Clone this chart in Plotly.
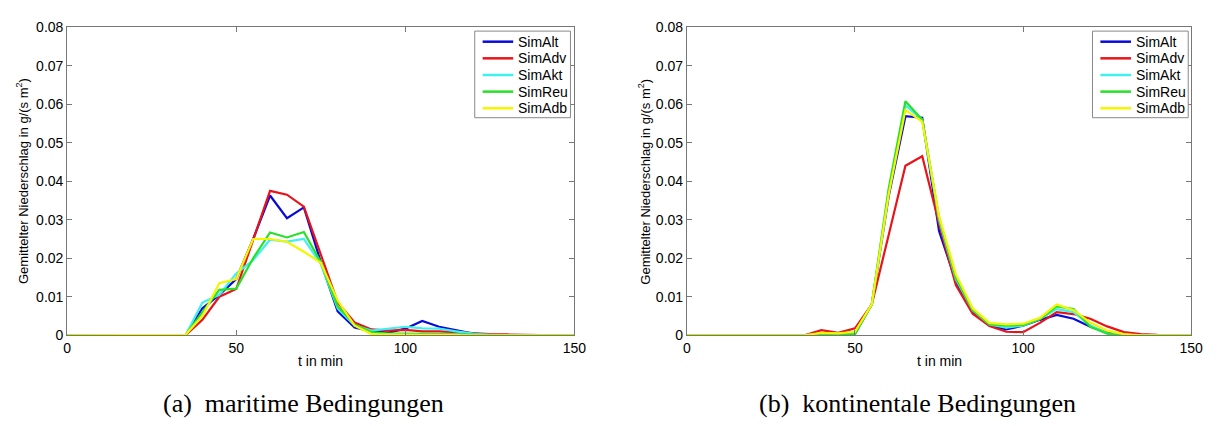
import plotly.graph_objects as go

t = [0, 5, 10, 15, 20, 25, 30, 35, 40, 45, 50, 55, 60, 65, 70, 75, 80, 85, 90, 95,
     100, 105, 110, 115, 120, 125, 130, 135, 140, 145, 150]

series_names = ["SimAlt", "SimAdv", "SimAkt", "SimReu", "SimAdb"]
colors = ["#0a0ad8", "#e8141a", "#3ff0f0", "#28e028", "#f5f500"]

# (a) maritime Bedingungen
mar_alt = [0, 0, 0, 0, 0, 0, 0, 0, 0.0070, 0.0105, 0.0146, 0.0250, 0.0363, 0.0304, 0.0332, 0.0190,
           0.0062, 0.0020, 0.0010, 0.0007, 0.0017, 0.0037, 0.0022, 0.0012, 0.0004, 0.0001, 0, 0, 0, 0, 0]
mar_adv = [0, 0, 0, 0, 0, 0, 0, 0, 0.0040, 0.0100, 0.0120, 0.0250, 0.0375, 0.0365, 0.0334, 0.0210,
           0.0085, 0.0033, 0.0015, 0.0012, 0.0014, 0.0010, 0.0010, 0.0008, 0.0005, 0.0003, 0.0002, 0.0001, 0, 0, 0]
mar_akt = [0, 0, 0, 0, 0, 0, 0, 0, 0.0085, 0.0105, 0.0160, 0.0195, 0.0248, 0.0243, 0.0250, 0.0185,
           0.0070, 0.0025, 0.0012, 0.0017, 0.0022, 0.0018, 0.0017, 0.0010, 0.0004, 0.0001, 0, 0, 0, 0, 0]
mar_reu = [0, 0, 0, 0, 0, 0, 0, 0, 0.0060, 0.0118, 0.0121, 0.0200, 0.0267, 0.0254, 0.0268, 0.0190,
           0.0075, 0.0028, 0.0008, 0.0004, 0.0004, 0.0004, 0.0003, 0.0002, 0.0001, 0, 0, 0, 0, 0, 0]
mar_adb = [0, 0, 0, 0, 0, 0.0001, 0.0001, 0.0001, 0.0050, 0.0135, 0.0146, 0.0250, 0.0250, 0.0243, 0.0217, 0.0188,
           0.0090, 0.0025, 0.0003, 0.0002, 0.0002, 0.0001, 0.0001, 0, 0, 0, 0, 0, 0, 0, 0]

# (b) kontinentale Bedingungen
kon_alt = [0, 0, 0, 0, 0, 0, 0, 0, 0.0003, 0.0003, 0.0004, 0.0080, 0.0360, 0.0569, 0.0565, 0.0271,
           0.0140, 0.0060, 0.0025, 0.0015, 0.0025, 0.0040, 0.0053, 0.0043, 0.0022, 0.0007, 0.0001, 0, 0, 0, 0]
kon_adv = [0, 0, 0, 0, 0, 0, 0, 0, 0.0013, 0.0006, 0.0018, 0.0080, 0.0260, 0.0440, 0.0465, 0.0290,
           0.0130, 0.0056, 0.0024, 0.0009, 0.0008, 0.0032, 0.0060, 0.0055, 0.0043, 0.0023, 0.0008, 0.0003, 0.0001, 0, 0]
kon_akt = [0, 0, 0, 0, 0, 0, 0, 0, 0.0004, 0.0004, 0.0006, 0.0080, 0.0370, 0.0597, 0.0560, 0.0300,
           0.0145, 0.0065, 0.0028, 0.0020, 0.0025, 0.0042, 0.0068, 0.0060, 0.0025, 0.0005, 0.0001, 0, 0, 0, 0]
kon_reu = [0, 0, 0, 0, 0, 0, 0, 0, 0.0002, 0.0003, 0.0003, 0.0080, 0.0380, 0.0608, 0.0560, 0.0305,
           0.0150, 0.0066, 0.0029, 0.0025, 0.0027, 0.0042, 0.0075, 0.0068, 0.0022, 0.0004, 0, 0, 0, 0, 0]
kon_adb = [0, 0, 0, 0, 0, 0, 0, 0, 0.0006, 0.0005, 0.0009, 0.0080, 0.0365, 0.0585, 0.0555, 0.0310,
           0.0158, 0.0070, 0.0032, 0.0028, 0.0030, 0.0045, 0.0080, 0.0065, 0.0033, 0.0012, 0.0003, 0, 0, 0, 0]

x_ticks = [0, 50, 100, 150]
y_ticks = [0, 0.01, 0.02, 0.03, 0.04, 0.05, 0.06, 0.07, 0.08]
y_tick_labels = ["0", "0.01", "0.02", "0.03", "0.04", "0.05", "0.06", "0.07", "0.08"]

x_title = "t in min"
y_title = "Gemittelter Niederschlag in g/(s m<sup>2</sup>)"
captions = ["(a)  maritime Bedingungen", "(b)  kontinentale Bedingungen"]

W, H = 1217, 426
fig = go.Figure()

maritime = [mar_alt, mar_adv, mar_akt, mar_reu, mar_adb]
kontinental = [kon_alt, kon_adv, kon_akt, kon_reu, kon_adb]

for name, col, ys in zip(series_names, colors, maritime):
    fig.add_trace(go.Scatter(x=t, y=ys, mode="lines", name=name, showlegend=False,
                             line=dict(color=col, width=2.2), xaxis="x", yaxis="y"))
for name, col, ys in zip(series_names, colors, kontinental):
    fig.add_trace(go.Scatter(x=t, y=ys, mode="lines", name=name, showlegend=False,
                             line=dict(color=col, width=2.2), xaxis="x2", yaxis="y2"))

font_sans = "Liberation Sans, Arial, sans-serif"
font_serif = "Liberation Serif, Times New Roman, serif"
axis_common = dict(showline=True, linecolor="#777777", linewidth=1, mirror="ticks",
                   ticks="inside", ticklen=5, tickcolor="#777777", showgrid=False,
                   zeroline=False, tickfont=dict(family=font_sans, size=14, color="black"))

y_top = 1 - 20 / H
y_bot = 1 - 340 / H

fig.update_layout(
    width=W, height=H,
    margin=dict(l=0, r=0, t=0, b=0),
    paper_bgcolor="white", plot_bgcolor="white",
    showlegend=False,
    xaxis=dict(domain=[64 / W, 578 / W], range=[0, 150], tickvals=x_ticks, anchor="y", **axis_common),
    yaxis=dict(domain=[y_bot, y_top], range=[0, 0.08], tickvals=y_ticks, ticktext=y_tick_labels,
               anchor="x", **axis_common),
    xaxis2=dict(domain=[692 / W, 1203 / W], range=[0, 150], tickvals=x_ticks, anchor="y2", **axis_common),
    yaxis2=dict(domain=[y_bot, y_top], range=[0, 0.08], tickvals=y_ticks, ticktext=y_tick_labels,
                anchor="x2", **axis_common),
)

annotations = []
shapes = []

# axis titles and captions
for cx, ylab_x, cap_x, cap in [((64 + 578) / 2, 19, 303, captions[0]),
                               ((692 + 1203) / 2, 649, 926, captions[1])]:
    annotations.append(dict(x=cx / W, y=1 - 367 / H, xref="paper", yref="paper", text=x_title,
                            showarrow=False, xanchor="center", yanchor="middle",
                            font=dict(family=font_sans, size=14, color="black")))
    annotations.append(dict(x=ylab_x / W, y=1 - 180 / H, xref="paper", yref="paper", text=y_title,
                            showarrow=False, textangle=-90, xanchor="center", yanchor="middle",
                            font=dict(family=font_sans, size=13, color="black")))
    annotations.append(dict(x=cap_x / W, y=1 - 411 / H, xref="paper", yref="paper", text=cap,
                            showarrow=False, xanchor="center", yanchor="middle",
                            font=dict(family=font_serif, size=26, color="black")))

# legends (MATLAB-style boxed legend in the upper right of each panel)
row_gap = 17.3
for box_left in [477, 1103]:
    shapes.append(dict(type="rect", xref="paper", yref="paper",
                       x0=box_left / W, x1=(box_left + 97) / W,
                       y0=1 - 114 / H, y1=1 - 24 / H,
                       line=dict(color="#888888", width=1), fillcolor="white", layer="above"))
    for i, (name, col) in enumerate(zip(series_names, colors)):
        yy = 1 - (35 + i * row_gap) / H
        shapes.append(dict(type="line", xref="paper", yref="paper",
                           x0=(box_left + 8) / W, x1=(box_left + 39) / W, y0=yy, y1=yy,
                           line=dict(color=col, width=2.5), layer="above"))
        annotations.append(dict(x=(box_left + 42) / W, y=yy, xref="paper", yref="paper", text=name,
                                showarrow=False, xanchor="left", yanchor="middle",
                                font=dict(family=font_sans, size=14, color="black")))

fig.update_layout(annotations=annotations, shapes=shapes)

fig.write_html("out.html")
